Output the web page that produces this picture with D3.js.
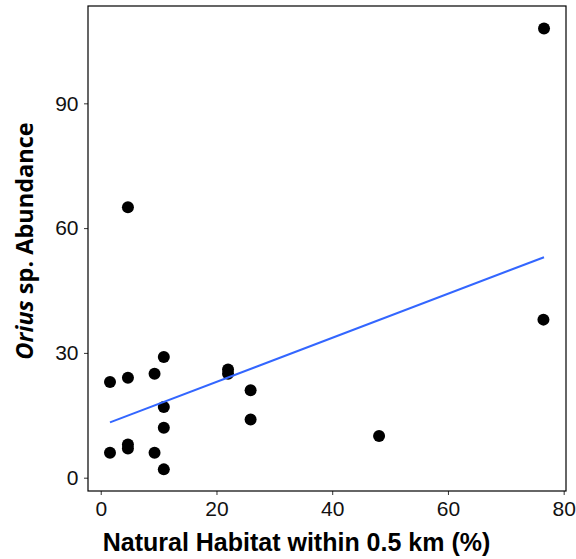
<!DOCTYPE html>
<html><head><meta charset="utf-8">
<script src="https://cdn.jsdelivr.net/npm/d3@7"></script>
<style>html,body{margin:0;padding:0;background:#fff;}</style>
</head><body>
<script>
const habitat = [1.6, 4.7, 9.3, 10.9, 22.0, 22.0, 25.9, 25.9, 10.9, 10.9, 10.9, 1.6, 4.7, 4.7, 9.3, 4.7, 76.5, 48.1, 76.6];
const abundance = [23, 24, 25, 29, 26, 25, 21, 14, 17, 12, 2, 6, 8, 7, 6, 65, 38, 10, 108];
const fitX = [1.6, 76.6];
const fitY = [13.3, 53.0];
const xTicks = [0, 20, 40, 60, 80];
const yTicks = [0, 30, 60, 90];

const W = 576, H = 559;
const panel = {left: 88, top: 6, right: 566, bottom: 491};

const svg = d3.select("body").append("svg").attr("width", W).attr("height", H);

const x = d3.scaleLinear().domain([-2.2, 80.4]).range([panel.left, panel.right]);
const y = d3.scaleLinear().domain([-3.2, 113.4]).range([panel.bottom, panel.top]);

const xAxis = svg.append("g").attr("transform", `translate(0,${panel.bottom})`)
  .call(d3.axisBottom(x).tickValues(xTicks).tickSize(4).tickPadding(6.5));
const yAxis = svg.append("g").attr("transform", `translate(${panel.left},0)`)
  .call(d3.axisLeft(y).tickValues(yTicks).tickSize(4).tickPadding(5.5));
[xAxis, yAxis].forEach(a => {
  a.select(".domain").remove();
  a.selectAll(".tick line").attr("stroke", "#333").attr("stroke-width", 1);
  a.selectAll(".tick text").attr("font-family", "Liberation Sans, Arial, sans-serif")
    .attr("font-size", 21).attr("fill", "#111");
});

svg.append("rect").attr("x", panel.left).attr("y", panel.top)
  .attr("width", panel.right - panel.left).attr("height", panel.bottom - panel.top)
  .attr("fill", "none").attr("stroke", "#000").attr("stroke-width", 1.2);

svg.append("g").selectAll("circle").data(habitat.map((h, i) => [h, abundance[i]]))
  .join("circle").attr("cx", d => x(d[0])).attr("cy", d => y(d[1])).attr("r", 6).attr("fill", "#000");

svg.append("path").datum(fitX.map((v, i) => [v, fitY[i]]))
  .attr("d", d3.line().x(d => x(d[0])).y(d => y(d[1])))
  .attr("stroke", "#3366FF").attr("stroke-width", 2).attr("fill", "none");

svg.append("text").attr("x", 296.5).attr("y", 551).attr("text-anchor", "middle")
  .attr("font-family", "Liberation Sans, Arial, sans-serif").attr("font-weight", "bold")
  .attr("font-size", 25).attr("fill", "#000").text("Natural Habitat within 0.5 km (%)");

const yt = svg.append("text").attr("transform", "translate(33,241) rotate(-90)").attr("text-anchor", "middle")
  .attr("font-family", "Open Sans, sans-serif").attr("font-weight", "bold")
  .attr("font-size", 23.5).attr("fill", "#000");
yt.append("tspan").attr("font-style", "italic").text("Orius");
yt.append("tspan").text(" sp. Abundance");
</script>
</body></html>
